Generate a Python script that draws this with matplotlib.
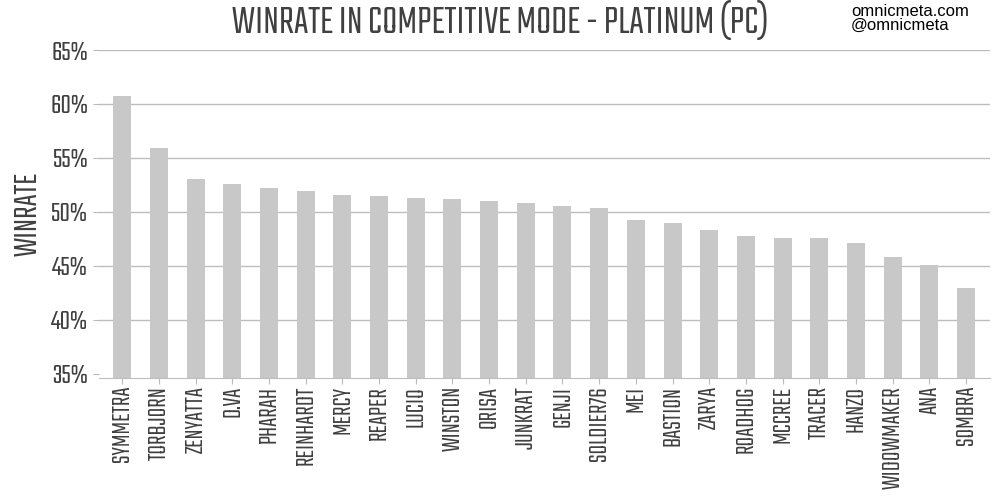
from matplotlib import pyplot as plt
from matplotlib import font_manager

heroes = ["SYMMETRA", "TORBJORN", "ZENYATTA", "D.VA", "PHARAH", "REINHARDT",
          "MERCY", "REAPER", "LUCIO", "WINSTON", "ORISA", "JUNKRAT", "GENJI",
          "SOLDIER76", "MEI", "BASTION", "ZARYA", "ROADHOG", "MCCREE", "TRACER",
          "HANZO", "WIDOWMAKER", "ANA", "SOMBRA"]
winrate = [60.7, 55.9, 53.05, 52.6, 52.25, 51.95, 51.6, 51.5, 51.3, 51.2,
           51.0, 50.8, 50.5, 50.4, 49.2, 49.0, 48.3, 47.75, 47.6, 47.6,
           47.1, 45.8, 45.1, 42.95]
y_ticks = [35, 40, 45, 50, 55, 60, 65]

# condensed display font, first one that is installed
installed = {f.name for f in font_manager.fontManager.ttflist}
candidates = ["Saira Extra Condensed", "Teko", "Oswald", "Pathway Gothic One",
              "Fjalla One", "Bebas Neue", "DejaVu Sans"]
narrow = next(c for c in candidates if c in installed)
text_col = "#404040"
weight = "bold"

fig = plt.figure(figsize=(10, 5), dpi=100)
ax = fig.add_axes([0.099, 0.245, 0.891, 0.655])

x = list(range(len(heroes)))
ax.bar(x, winrate, width=0.49, color="#c8c8c8", zorder=2)
ax.set_xlim(-0.63, 23.65)
ax.set_ylim(34.65, 65)
ax.set_yticks(y_ticks)
ax.set_yticklabels([f"{t}%" for t in y_ticks], family=narrow, fontweight=weight,
                   fontsize=21, color=text_col)
ax.set_xticks(x)
ax.set_xticklabels(heroes, rotation=90, family=narrow, fontweight=weight,
                   fontsize=19, color=text_col)
ax.tick_params(axis="y", length=4, color="#bbbbbb", pad=4)
ax.tick_params(axis="x", length=4, color="#bbbbbb", pad=2)
ax.grid(axis="y", color="#bdbdbd", linewidth=1, zorder=0)
ax.get_ygridlines()[0].set_visible(False)

for side in ["top", "right", "left"]:
    ax.spines[side].set_visible(False)
ax.spines["bottom"].set_color("#bdbdbd")

ax.set_ylabel("WINRATE", family=narrow, fontweight=weight, fontsize=25,
              color=text_col, labelpad=6)

fig.text(0.5, 0.96, "WINRATE IN COMPETITIVE MODE - PLATINUM (PC)", ha="center",
         va="center", family=narrow, fontweight=weight, fontsize=30, color=text_col)
fig.text(0.851, 0.993, "omnicmeta.com\n@omnicmeta", ha="left", va="top",
         family="Liberation Sans", fontsize=12, color="black", linespacing=0.95)

fig.savefig("out.png", dpi=100)
